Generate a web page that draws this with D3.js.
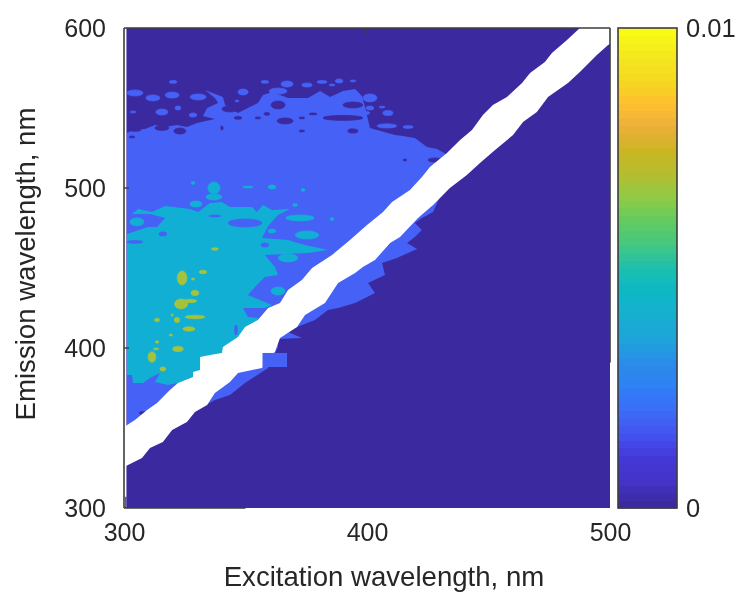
<!DOCTYPE html>
<html>
<head>
<meta charset="utf-8">
<script src="https://cdn.jsdelivr.net/npm/d3@7"></script>
<style>
  html, body { margin: 0; padding: 0; background: #fff; }
  svg { display: block; filter: blur(0.45px); }
  text { font-family: "Liberation Sans", Arial, sans-serif; fill: #262626; }
</style>
</head>
<body>
<svg width="738" height="592"></svg>
<script>
// Axis ticks
const exTicks = [300, 400, 500]
const emTicks = [300, 400, 500, 600]
const cbTicks = [0, 0.01]

// Contour outlines, [excitation, emission] in nm
const blueOutline = [
  [301.2,534.4],[303.7,536.3],[308.6,536.9],[312.8,539.4],[316.9,538.1],[321.8,539.4],[325.9,538.1],[330,540.6],
  [337.4,543.1],[332.5,545],[334.2,550],[338.7,553.1],[337.4,556.3],[333.3,561.3],[340.7,556.9],[341.6,551.9],
  [346.9,546.9],[355.1,553.1],[357.2,558.1],[360.9,560],[367.5,556.3],[375.7,556.3],[380.7,560.6],[384.8,556.9],
  [390.1,560.6],[395.1,561.9],[397.9,557.5],[399.2,550.6],[401.2,537.5],[411.5,533.1],[414.8,532.5],[419.7,531.3],
  [424.7,525.6],[428.8,524.4],[433.3,520.6],[435,511.3],[427.2,485],[422.6,481.3],[419.7,478.1],[422.6,473.8],
  [419.7,469.4],[416.5,465.6],[420.6,461.9],[412.3,456.3],[406.2,453.1],[407.4,445.6],[400.4,440.6],[403.3,434.4],
  [395.1,428.1],[388.1,425],[383.9,423.8],[378.6,417.5],[371.2,413.1],[367.5,410],[373.2,406.3],[363.4,405.6],
  [363.4,400.6],[359.3,387.5],[349.8,378.1],[343.6,370.6],[337.4,367.5],[328.8,360],[323,351.9],[301.2,336]
]
const tealOutline = [
  [301.2,471.3],[309.9,475.6],[313.6,475.6],[316.9,481.3],[310.7,483.8],[303.3,483.8],[305.8,486.9],[311.5,485],
  [316.9,488.8],[327.2,486.9],[330.5,485],[335.4,490.6],[340.3,491.3],[343.6,488.1],[352.7,488.1],[354.7,485],
  [357.2,489.4],[360.9,486.3],[368.3,486.9],[363.4,483.1],[359.3,476.3],[356.8,468.8],[367.5,467.5],[374.5,464.4],
  [383.9,461.3],[375.7,459.4],[358,458.1],[362.1,450.6],[363.4,445.6],[358,444.4],[353.9,438.1],[351,433.1],
  [360.9,426.9],[358,425],[349,425],[351,419.4],[355.1,418.8],[356.8,408.1],[331.3,383.1],[328.4,381.9],
  [322.2,378.1],[318.1,376.9],[312.8,378.8],[314.8,384.4],[310.7,381.3],[307.8,378.1],[303.7,378.1],[303.3,383.1],[301.2,383.1]
]

// White gap around the scatter line
const gapUpper = [
  [300,350.6],[304.5,355],[309.5,361.3],[313.6,365.6],[318.9,373.8],[322.2,378.1],[328.4,381.9],[328.4,385],
  [331.3,386.3],[331.3,394.4],[335.4,395.6],[340.3,396.9],[340.7,400.6],[346.9,406.9],[349.8,413.1],[355.1,417.5],
  [359.3,425],[364.2,428.1],[367.5,436.3],[373.2,442.5],[377.4,450],[385.6,458.1],[393,467.5],[400,476.9],
  [406.6,485],[410.3,491.3],[417.7,498.8],[422.6,506.9],[425.9,513.1],[432.9,521.9],[438.3,530],[443.2,536.3],
  [447.7,545.6],[451.8,551.9],[457.6,556.9],[463.8,565.6],[467.1,571.9],[473.2,578.8],[476.1,584.4],[482.3,592.5],
  [487.6,600],[492,610],[505,610]
]
const gapLower = [
  [300,325.6],[307.4,331.3],[310.7,337.5],[316,341.3],[319.8,348.8],[325.9,353.8],[329.2,360],[334.2,364.4],
  [337.4,371.9],[343.6,378.8],[346.9,384.4],[356.8,387.5],[359.3,393.8],[362.1,397.5],[364.2,406.3],[371.2,413.1],
  [374.5,420.6],[382.7,428.1],[388.1,440.6],[395.1,446.9],[398.3,450.6],[403.3,455],[409.5,465.6],[413.6,469.4],
  [421,481.3],[427.2,489.4],[434.1,500],[441.1,508.1],[446.5,515.6],[452.7,523.8],[460.1,533.1],[464.2,541.3],
  [469.9,547.5],[474.5,556.9],[482.7,565.6],[487.6,572.5],[494.6,583.1],[499.2,589.4],[505,594]
]

// Small patches, [excitation, emission, half width, half height] in nm
const blueIslands = [
  [320.2,566.3,1.6,.9],[358,566.3,1.6,.9],[367.1,565,2.5,1.9],[375.3,564.4,2.1,1.3],[381.5,566.3,2.1,.9],[388.5,566.9,1.6,1.3],
  [304.5,559.4,3.3,1.9],[311.9,556.3,2.9,1.9],[319.8,558.1,2.9,1.9],[330.5,556.9,3.3,1.9],[349,560,2.1,1.9],[363.4,560.6,3.7,1.9],
  [303.7,547.5,1.2,.6],[315.6,547.5,2.5,1.9],[322.2,550,1.2,1.3],[328.4,545.6,1.6,1.3],[346.5,554.4,.8,.6],[398.3,546.9,2.9,1.3],
  [408.6,546.9,2.1,1.6],[401.2,550,1.6,1.3],[401.2,556.3,2.9,2.5],[406.2,550.6,1.2,.6],[416.9,538.1,2.1,.9],[408.2,538.8,4.1,1.3],
  [394.2,566.9,1.2,.6],[385.6,564.4,1.2,.6]
]
const darkHoles = [
  [315.6,537.5,2.9,1.6],[323,535.6,2.5,1.9],[303.3,531.9,1.2,.6],[304.5,536.3,2.5,.9],[340.3,537.5,.5,1.3],[346.9,543.8,1.6,.9],
  [355.1,543.8,1.2,.6],[366.3,541.9,3.3,1.9],[358.8,546.3,1.2,.9],[363.4,551.9,2.9,2.5],[343.6,549.4,3.3,1.9],[373.2,535.6,1.2,.6],
  [377.8,546.3,1.6,.6],[373.2,543.8,1.2,.6],[393.8,536.3,1.2,.6],[390.1,543.8,8.2,1.6],[394.2,551.9,4.1,1.9],[394.2,535.6,2.1,1.3],
  [428,517.5,2.9,1.3],[415.6,517.5,.8,.6],[307.8,359.4,1.6,.9]
]
const tealIslands = [
  [367.5,456.3,4.1,2.5],[363.4,435.6,2.9,2.5],[337,500,2.5,3.8],[337,494.4,3.3,1.9],[329.6,490,2.5,1.9],[351,500.6,2.1,.6],
  [360.9,500.6,1.6,1.3],[373.7,498.8,.8,.9],[328.4,503.1,.8,.9],[370.4,489.4,1,.9],[360.9,473.1,1.6,1.3],[375.3,470.6,4.9,2.5],
  [372.4,481.3,5.8,1.9],[385.6,480.6,.8,.9],[305.3,478.8,2.9,2.5]
]
const tealHoles = [
  [349.8,478.1,7,2.5],[316,471.3,1.6,1.3],[304.5,466.3,3.3,.9],[337.4,482.5,2.5,.6],[358,464.4,1.6,1.3],[346.1,411.3,.6,3.1]
]
const peakSpots = [
  [323.9,443.8,2,4.4],[332.5,447.5,1.6,1.1],[337.4,461.9,1.4,.8],[329.2,434.4,1.6,1.7],[323.5,427.5,2.7,3.1],[327.2,429.4,2.7,1.1],
  [329.2,419.4,4.1,1.1],[321.8,417.5,1.1,1.7],[313.6,417.5,1.1,1.1],[326.7,411.9,2.5,1.4],[322.2,399.4,2.2,1.7],[311.5,394.4,1.6,3.3],
  [316,386.9,1.2,1.3],[313.6,403.8,.7,.8],[328.4,443.1,.7,.6],[319.8,420.6,.5,.6],[319.3,408.1,.7,.6],[313.2,399.4,1.1,.6]
]

// Leftover blue block on top of the gap, [ex0, ex1, em0, em1]
const gapBlock = [357, 367.1, 388.1, 396.9]

// Colorbar stops, bottom to top
const cbColors = ["#3a2a9e","#4433c8","#4338d8","#4454f0","#3c6cf8","#2f80f5","#2a8de8","#1ea3da","#18afd0","#0cb8c5","#1cbfb0",
  "#45c880","#62cb60","#90cb45","#b5bd2f","#ccb522","#edaf3b","#ffc030","#f5d91f","#f4e81f","#f9fb15"]
const cbLevels = d3.range(64)

const colDark = "#3b29a0", colBlue = "#4561f6", colTeal = "#11afd4", colPeak = "#a3c23e", colAxis = "#3d3d3d"

// Scales
const x = d3.scaleLinear().domain([300, 500]).range([124, 610])
const y = d3.scaleLinear().domain([300, 600]).range([508, 28])
const cbY = d3.scaleLinear().domain(cbTicks).range([508, 28])
const cbColor = d3.scaleLinear()
  .domain(cbColors.map((c, i) => i / (cbColors.length - 1) * 63))
  .range(cbColors)

const svg = d3.select("svg")
const line = d3.line().x(d => x(d[0])).y(d => y(d[1]))

svg.append("clipPath").attr("id", "plot-clip").append("rect")
  .attr("x", x(300)).attr("y", y(600))
  .attr("width", x(500) - x(300)).attr("height", y(300) - y(600))

const plot = svg.append("g").attr("clip-path", "url(#plot-clip)")

// stroke fattens the thin patches a little, they fade under the blur otherwise
function patches(data, color) {
  plot.append("g").attr("fill", color).attr("stroke", color).attr("stroke-width", 0.7)
    .selectAll("ellipse")
    .data(data).enter().append("ellipse")
    .attr("cx", d => x(d[0]))
    .attr("cy", d => y(d[1]))
    .attr("rx", d => x(d[0] + d[2]) - x(d[0]))
    .attr("ry", d => y(d[1] - d[3]) - y(d[1]))
}

// Base level, starts just inside the left axis
plot.append("rect")
  .attr("x", x(301)).attr("y", y(600))
  .attr("width", x(500) - x(301)).attr("height", y(300) - y(600))
  .attr("fill", colDark)
plot.append("rect")
  .attr("x", x(300.5)).attr("y", y(307))
  .attr("width", x(301) - x(300.5)).attr("height", y(300) - y(307))
  .attr("fill", colDark)

plot.append("path").attr("d", line(blueOutline) + "Z").attr("fill", colBlue)
patches(blueIslands, colBlue)
patches(darkHoles, colDark)

plot.append("path").attr("d", line(tealOutline) + "Z").attr("fill", colTeal)
patches(tealIslands, colTeal)
patches(tealHoles, colBlue)
patches(peakSpots, colPeak)

// Gap is drawn last, it covers the contours under it
const gapPts = gapUpper.concat(gapLower.slice().reverse())
plot.append("path").attr("d", line(gapPts) + "Z").attr("fill", "#fff")

plot.append("rect")
  .attr("x", x(gapBlock[0])).attr("y", y(gapBlock[3]))
  .attr("width", x(gapBlock[1]) - x(gapBlock[0])).attr("height", y(gapBlock[2]) - y(gapBlock[3]))
  .attr("fill", colBlue)

// Box, the image hides the lower part of it on the bottom and right
const boxLines = [
  [[300, 300], [300, 600]],
  [[300, 600], [500, 600]],
  [[500, 600], [500, 391]],
  [[300, 300], [350, 300]]
]
svg.append("g").selectAll("path").data(boxLines).enter().append("path")
  .attr("d", line)
  .attr("fill", "none")
  .attr("stroke", colAxis)
  .attr("stroke-width", 1.6)

// Axes
const xAxis = d3.axisBottom(x).tickValues(exTicks).tickSize(0).tickPadding(15)
const yAxis = d3.axisLeft(y).tickValues(emTicks).tickSize(0).tickPadding(18)

const gx = svg.append("g").attr("transform", "translate(0," + y(300) + ")").call(xAxis)
const gy = svg.append("g").attr("transform", "translate(" + x(300) + ",0)").call(yAxis)
gx.select(".domain").remove()
gy.select(".domain").remove()
svg.selectAll(".tick text").attr("font-size", 25).style("fill", "#262626")

// Inward ticks
svg.append("g").selectAll("line").data(emTicks.slice(1, 3)).enter().append("line")
  .attr("x1", x(300)).attr("x2", x(300) + 5)
  .attr("y1", d => y(d)).attr("y2", d => y(d))
  .attr("stroke", colAxis).attr("stroke-width", 1.4)
svg.append("line")
  .attr("x1", x(400)).attr("x2", x(400))
  .attr("y1", y(600)).attr("y2", y(600) + 5)
  .attr("stroke", colAxis).attr("stroke-width", 1.4)

svg.append("text")
  .attr("x", 384).attr("y", 586)
  .attr("text-anchor", "middle")
  .attr("font-size", 27.6)
  .text("Excitation wavelength, nm")
svg.append("text")
  .attr("transform", "translate(35,264) rotate(-90)")
  .attr("text-anchor", "middle")
  .attr("font-size", 27.6)
  .text("Emission wavelength, nm")

// Colorbar
const cbX0 = 618, cbX1 = 677
const cbStep = (cbY(0) - cbY(0.01)) / cbLevels.length
svg.append("g").selectAll("rect").data(cbLevels).enter().append("rect")
  .attr("x", cbX0).attr("width", cbX1 - cbX0)
  .attr("y", d => cbY((d + 1) / cbLevels.length * 0.01))
  .attr("height", cbStep + 0.5)
  .attr("fill", d => cbColor(d))
svg.append("rect")
  .attr("x", cbX0).attr("y", cbY(0.01))
  .attr("width", cbX1 - cbX0).attr("height", cbY(0) - cbY(0.01))
  .attr("fill", "none").attr("stroke", colAxis).attr("stroke-width", 1.6)

const cbAxis = d3.axisRight(cbY).tickValues(cbTicks).tickSize(0).tickPadding(9)
  .tickFormat(d => d === 0 ? "0" : "0.01")
const gc = svg.append("g").attr("transform", "translate(" + cbX1 + ",0)").call(cbAxis)
gc.select(".domain").remove()
gc.selectAll("text").attr("font-size", 25.5).style("fill", "#262626")
</script>
</body>
</html>
